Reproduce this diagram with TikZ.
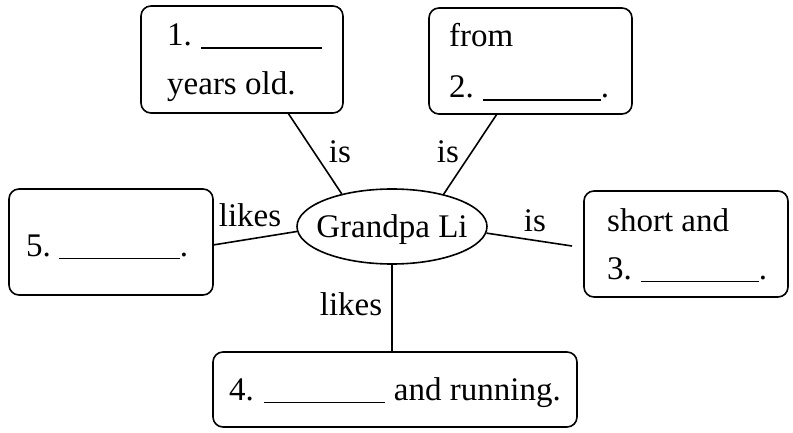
\documentclass[tikz,border=0pt]{standalone}
\usepackage{fontspec}
\setmainfont{Liberation Serif}
\usetikzlibrary{shapes.geometric}
\newcommand\myblank[1]{\rule[-3pt]{#1pt}{1.5pt}}
\begin{document}
\begin{tikzpicture}[x=1pt,y=-1pt,
  box/.style={draw, line width=1.6pt, rounded corners=10pt, inner sep=0pt},
  txt/.style={anchor=base west, inner sep=0pt, font=\fontsize{33}{40}\selectfont},
  lbl/.style={anchor=base, inner sep=0pt, font=\fontsize{33}{40}\selectfont},
  conn/.style={line width=1.6pt}]
\useasboundingbox[fill=white] (0,0) rectangle (793,433);
% boxes
\node[box, minimum width=202pt, minimum height=107pt] (b1) at (242,59.5) {};
\node[box, minimum width=203pt, minimum height=106pt] (b2) at (530.5,61) {};
\node[box, minimum width=204pt, minimum height=106pt] (b5) at (111,242) {};
\node[box, minimum width=204pt, minimum height=106pt] (b3) at (686,244) {};
\node[box, minimum width=364pt, minimum height=75pt] (b4) at (395,389.5) {};
\node[draw, ellipse, line width=1.6pt, inner sep=0pt, minimum width=190pt, minimum height=75pt] (g) at (392,226.5) {};
% texts
\node[txt] (t1a) at (167,46) {1.\hspace{9pt}\myblank{121}};
\node[txt] (t1b) at (167,95) {years old.};
\node[txt] (t2a) at (449,47) {from};
\node[txt] (t2b) at (449,98) {2.\hspace{9pt}\myblank{118}.};
\node[txt] (t5) at (26,256) {5.\hspace{8pt}\myblank{121}.};
\node[txt] (t3a) at (607,231) {short and};
\node[txt] (t3b) at (607,279) {3.\hspace{9pt}\myblank{118}.};
\node[txt] (t4) at (229,400) {4.\hspace{10pt}\myblank{121}\hspace{9pt}and running.};
\node[lbl] (gl) at (392,237) {Grandpa Li};
% connectors
\coordinate (c1) at (288,113);
\coordinate (c2) at (497,114);
\coordinate (c5) at (213,245);
\coordinate (c3) at (572,246);
\draw[conn] (c1) -- (g.147);
\draw[conn] (c2) -- (g.32);
\draw[conn] (c5) -- (g.183);
\draw[conn] (g.-4) -- (c3);
\draw[conn] (g.south) -- (b4.north -| g.south);
% labels
\node[lbl] (l1) at (340,163) {is};
\node[lbl] (l2) at (448,163) {is};
\node[lbl] (l5) at (250,226) {likes};
\node[lbl] (l3) at (535,232) {is};
\node[lbl] (l4) at (351,315) {likes};
\end{tikzpicture}
\end{document}
